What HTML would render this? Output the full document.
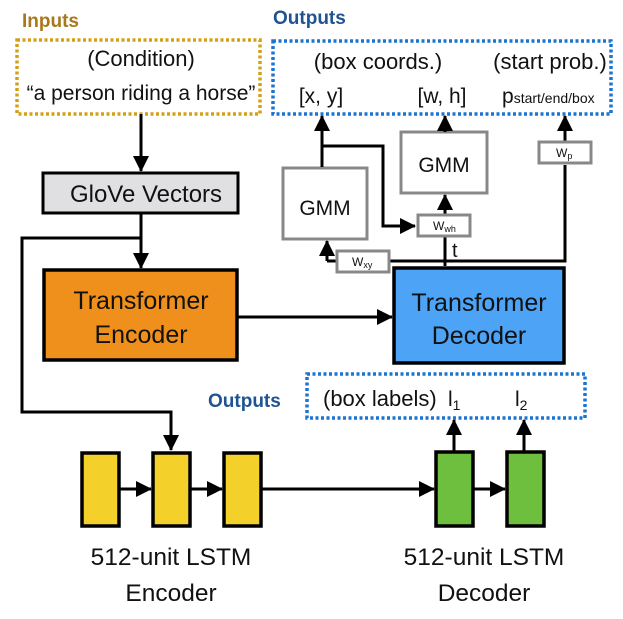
<!DOCTYPE html>
<html><head><meta charset="utf-8"><style>
html,body{margin:0;padding:0;background:#fff;}
svg{display:block;font-family:"Liberation Sans",sans-serif;}
</style></head><body>
<svg width="623" height="619" viewBox="0 0 623 619" xmlns="http://www.w3.org/2000/svg">
<defs>
<marker id="b" markerWidth="16" markerHeight="16" refX="15" refY="8" orient="auto" markerUnits="userSpaceOnUse" viewBox="0 0 16 16"><path d="M0,0 L16,8 L0,16 z" fill="#000"/></marker>
</defs>
<text x="22" y="27" font-size="19" font-weight="bold" fill="#a9781c">Inputs</text>
<text x="273" y="24" font-size="19" font-weight="bold" fill="#1f5391">Outputs</text>
<text x="208" y="407" font-size="19" font-weight="bold" fill="#1f5391">Outputs</text>
<rect x="17" y="40" width="243" height="74" fill="none" stroke="#d4a017" stroke-width="3.5" stroke-dasharray="3,2.5"/>
<rect x="273" y="41" width="338" height="73" fill="none" stroke="#1a74d0" stroke-width="3.5" stroke-dasharray="3,2.5"/>
<rect x="307" y="374" width="278" height="44" fill="none" stroke="#1a74d0" stroke-width="3.5" stroke-dasharray="3,2.5"/>
<g font-size="21" fill="#111" text-anchor="middle">
<text x="141" y="66" font-size="22">(Condition)</text>
<text x="141" y="100">“a person riding a horse”</text>
<text x="378" y="69" font-size="22">(box coords.)</text>
<text x="550" y="69" font-size="22">(start prob.)</text>
<text x="321" y="103">[x, y]</text>
<text x="442" y="103">[w, h]</text>
</g>
<text x="502" y="103" font-size="21" fill="#111">p<tspan font-size="14">start/end/box</tspan></text>
<text x="323" y="406" font-size="22" fill="#111">(box labels)</text>
<text x="448" y="406" font-size="21" fill="#111">l<tspan font-size="14" dy="4">1</tspan></text>
<text x="515" y="406" font-size="21" fill="#111">l<tspan font-size="14" dy="4">2</tspan></text>
<rect x="43" y="173" width="195" height="40" fill="#e0e0e2" stroke="#000" stroke-width="3"/>
<text x="146" y="202" font-size="24" text-anchor="middle" fill="#111">GloVe Vectors</text>
<line x1="141" y1="114" x2="141" y2="171" stroke="#000" stroke-width="3" marker-end="url(#b)"/>
<rect x="44" y="270" width="193" height="90" fill="#f0901c" stroke="#000" stroke-width="3.5"/>
<text x="141" y="309" font-size="25" text-anchor="middle" fill="#111">Transformer</text>
<text x="141" y="343" font-size="25" text-anchor="middle" fill="#111">Encoder</text>
<line x1="141" y1="213" x2="141" y2="268" stroke="#000" stroke-width="3" marker-end="url(#b)"/>
<polyline points="141,238 22,238 22,412 171,412 171,450" fill="none" stroke="#000" stroke-width="3" marker-end="url(#b)"/>
<rect x="394" y="268" width="170" height="95" fill="#4da3f5" stroke="#000" stroke-width="3.5"/>
<text x="479" y="311" font-size="25" text-anchor="middle" fill="#111">Transformer</text>
<text x="479" y="344" font-size="25" text-anchor="middle" fill="#111">Decoder</text>
<line x1="237" y1="317" x2="392" y2="317" stroke="#000" stroke-width="3" marker-end="url(#b)"/>
<rect x="283" y="168" width="84" height="71" fill="#fff" stroke="#888" stroke-width="3"/>
<text x="325" y="215" font-size="21" text-anchor="middle" fill="#111">GMM</text>
<rect x="401" y="132" width="86" height="61" fill="#fff" stroke="#888" stroke-width="3"/>
<text x="444" y="172" font-size="21" text-anchor="middle" fill="#111">GMM</text>
<polyline points="327,261 565,261 565,165" fill="none" stroke="#000" stroke-width="3"/>
<line x1="565" y1="141" x2="565" y2="116" stroke="#000" stroke-width="3" marker-end="url(#b)"/>
<line x1="445" y1="266" x2="445" y2="237" stroke="#000" stroke-width="3"/>
<line x1="327" y1="261" x2="327" y2="241" stroke="#000" stroke-width="3" marker-end="url(#b)"/>
<line x1="322" y1="167" x2="322" y2="116" stroke="#000" stroke-width="3" marker-end="url(#b)"/>
<polyline points="322,146 383,146 383,226 415,226" fill="none" stroke="#000" stroke-width="3" marker-end="url(#b)"/>
<line x1="445" y1="215" x2="445" y2="195" stroke="#000" stroke-width="3" marker-end="url(#b)"/>
<line x1="445" y1="132" x2="445" y2="116" stroke="#000" stroke-width="3" marker-end="url(#b)"/>
<text x="452" y="257" font-size="20" fill="#111">t</text>
<rect x="337" y="251" width="52" height="21" fill="#fff" stroke="#888" stroke-width="3"/>
<text x="352" y="266" font-size="12" fill="#111">W<tspan font-size="9" dy="2">xy</tspan></text>
<rect x="418" y="215" width="52" height="21" fill="#fff" stroke="#888" stroke-width="3"/>
<text x="433" y="230" font-size="12" fill="#111">W<tspan font-size="9" dy="2">wh</tspan></text>
<rect x="539" y="142" width="52" height="21" fill="#fff" stroke="#888" stroke-width="3"/>
<text x="556" y="157" font-size="12" fill="#111">W<tspan font-size="9" dy="2">p</tspan></text>
<g stroke="#000" stroke-width="3.5">
<rect x="82" y="453" width="37" height="73" fill="#f4d12a"/>
<rect x="153" y="453" width="37" height="73" fill="#f4d12a"/>
<rect x="224" y="453" width="37" height="73" fill="#f4d12a"/>
<rect x="436" y="452" width="37" height="74" fill="#6fbf3f"/>
<rect x="507" y="452" width="37" height="74" fill="#6fbf3f"/>
</g>
<line x1="119" y1="489" x2="151" y2="489" stroke="#000" stroke-width="3" marker-end="url(#b)"/>
<line x1="190" y1="489" x2="222" y2="489" stroke="#000" stroke-width="3" marker-end="url(#b)"/>
<line x1="261" y1="489" x2="434" y2="489" stroke="#000" stroke-width="3" marker-end="url(#b)"/>
<line x1="473" y1="489" x2="505" y2="489" stroke="#000" stroke-width="3" marker-end="url(#b)"/>
<line x1="454" y1="451" x2="454" y2="420" stroke="#000" stroke-width="3" marker-end="url(#b)"/>
<line x1="524" y1="451" x2="524" y2="420" stroke="#000" stroke-width="3" marker-end="url(#b)"/>
<g font-size="24.5" fill="#111" text-anchor="middle">
<text x="171" y="565">512-unit LSTM</text>
<text x="171" y="601">Encoder</text>
<text x="484" y="565">512-unit LSTM</text>
<text x="484" y="601">Decoder</text>
</g>
</svg>
</body></html>
